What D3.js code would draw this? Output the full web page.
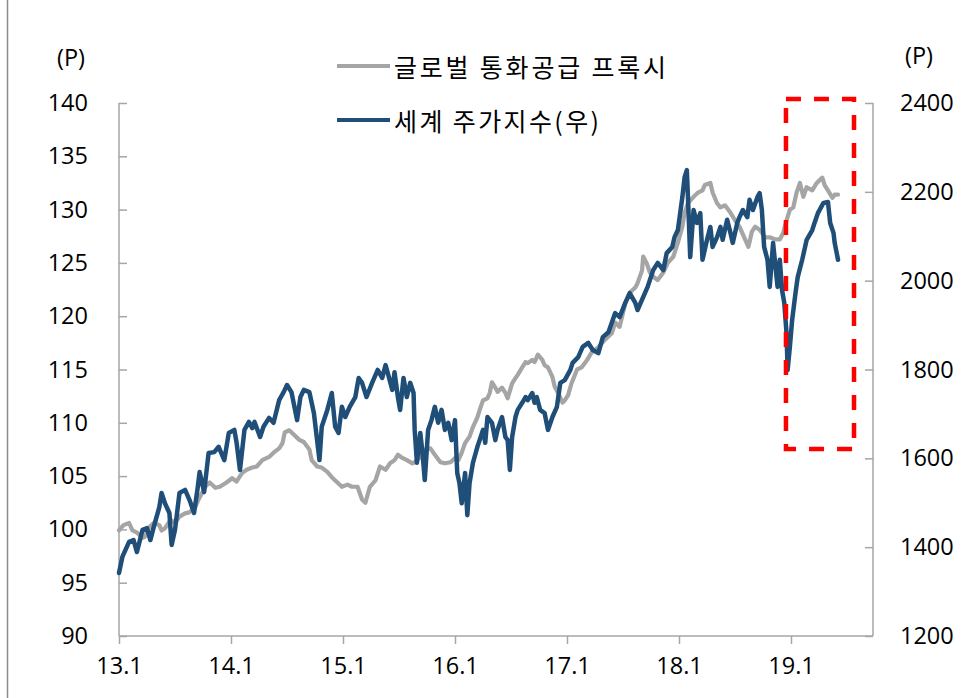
<!DOCTYPE html>
<html><head><meta charset="utf-8">
<script src="https://cdn.jsdelivr.net/npm/d3@7"></script>
<style>
html,body{margin:0;padding:0;background:#fff;}
svg{display:block;}
</style></head>
<body>
<svg id="chart" width="962" height="698"></svg>
<script>
// ---- data (decimal year, value) ----
const seriesNames = ["글로벌 통화공급 프록시", "세계 주가지수(우)"];
const xTickYears = [2013, 2014, 2015, 2016, 2017, 2018, 2019];
const xTickLabels = ["13.1", "14.1", "15.1", "16.1", "17.1", "18.1", "19.1"];
const leftTicks = [90, 95, 100, 105, 110, 115, 120, 125, 130, 135, 140];
const rightTicks = [1200, 1400, 1600, 1800, 2000, 2200, 2400];

const moneyProxy = [[2013.00,99.9],[2013.04,100.4],[2013.09,100.6],[2013.12,99.9],[2013.16,99.7],[2013.21,99.2],[2013.23,99.3],[2013.27,100.2],[2013.31,100.6],[2013.36,100.4],[2013.38,99.9],[2013.41,100.1],[2013.46,100.9],[2013.50,100.6],[2013.54,101.2],[2013.59,101.5],[2013.63,101.6],[2013.68,102.1],[2013.71,102.8],[2013.74,103.4],[2013.77,104.0],[2013.81,104.4],[2013.86,103.9],[2013.90,104.0],[2013.96,104.4],[2014.01,104.8],[2014.05,104.5],[2014.10,105.3],[2014.14,105.6],[2014.19,105.8],[2014.23,105.9],[2014.28,106.5],[2014.34,106.8],[2014.38,107.2],[2014.43,107.6],[2014.46,108.1],[2014.48,109.1],[2014.52,109.3],[2014.56,108.9],[2014.61,108.4],[2014.65,108.2],[2014.70,107.5],[2014.72,106.5],[2014.77,105.9],[2014.81,105.8],[2014.86,105.4],[2014.90,104.9],[2014.95,104.4],[2014.99,104.0],[2015.04,104.2],[2015.08,104.0],[2015.13,104.0],[2015.17,102.8],[2015.20,102.5],[2015.24,104.0],[2015.29,104.6],[2015.33,105.9],[2015.38,105.6],[2015.42,106.2],[2015.46,106.5],[2015.49,107.0],[2015.53,106.7],[2015.57,106.5],[2015.62,106.2],[2015.64,106.3],[2015.69,106.8],[2015.73,107.5],[2015.78,107.6],[2015.82,107.0],[2015.87,106.3],[2015.91,106.2],[2015.96,106.3],[2016.00,106.7],[2016.03,106.5],[2016.06,107.2],[2016.09,108.1],[2016.13,108.7],[2016.16,109.6],[2016.20,110.5],[2016.22,111.2],[2016.25,112.1],[2016.29,112.3],[2016.31,112.8],[2016.33,113.8],[2016.36,113.3],[2016.38,112.9],[2016.42,113.3],[2016.45,112.8],[2016.47,112.3],[2016.51,113.7],[2016.54,114.2],[2016.56,114.5],[2016.60,115.2],[2016.63,115.7],[2016.65,115.6],[2016.69,115.9],[2016.71,115.7],[2016.74,116.4],[2016.78,115.9],[2016.80,115.4],[2016.83,115.2],[2016.87,114.3],[2016.89,113.4],[2016.92,112.8],[2016.96,111.9],[2016.98,112.1],[2017.01,112.6],[2017.04,113.7],[2017.09,115.0],[2017.13,115.2],[2017.18,115.9],[2017.22,116.6],[2017.28,117.1],[2017.34,117.8],[2017.40,118.4],[2017.43,119.4],[2017.47,119.0],[2017.52,121.2],[2017.56,122.2],[2017.61,122.7],[2017.63,123.1],[2017.67,124.3],[2017.68,125.6],[2017.71,125.0],[2017.74,124.1],[2017.77,123.7],[2017.81,123.4],[2017.86,124.1],[2017.90,125.0],[2017.95,125.6],[2017.99,126.9],[2018.03,128.4],[2018.05,129.7],[2018.08,130.6],[2018.13,131.2],[2018.17,131.6],[2018.21,131.8],[2018.23,132.3],[2018.28,132.5],[2018.30,131.6],[2018.34,130.6],[2018.37,130.2],[2018.41,130.4],[2018.46,129.7],[2018.50,129.0],[2018.54,128.4],[2018.59,127.2],[2018.62,126.5],[2018.65,127.9],[2018.68,128.4],[2018.72,128.1],[2018.77,127.4],[2018.81,127.4],[2018.86,127.2],[2018.90,127.2],[2018.93,127.8],[2018.96,129.0],[2018.99,130.0],[2019.02,130.2],[2019.05,131.6],[2019.08,132.5],[2019.11,131.2],[2019.14,132.1],[2019.19,131.8],[2019.23,132.5],[2019.28,133.0],[2019.30,132.3],[2019.33,131.8],[2019.37,131.1],[2019.39,131.4],[2019.42,131.4]];

const worldStocks = [[2013.00,1342],[2013.03,1378],[2013.09,1412],[2013.13,1416],[2013.16,1389],[2013.21,1439],[2013.25,1443],[2013.28,1416],[2013.31,1445],[2013.36,1490],[2013.38,1522],[2013.41,1499],[2013.45,1477],[2013.47,1405],[2013.50,1439],[2013.54,1522],[2013.59,1529],[2013.63,1506],[2013.67,1477],[2013.70,1529],[2013.72,1569],[2013.76,1524],[2013.80,1612],[2013.85,1614],[2013.89,1626],[2013.94,1596],[2013.98,1657],[2014.03,1664],[2014.05,1635],[2014.08,1574],[2014.12,1664],[2014.16,1682],[2014.19,1668],[2014.21,1682],[2014.26,1648],[2014.29,1671],[2014.34,1691],[2014.38,1680],[2014.43,1731],[2014.47,1749],[2014.50,1765],[2014.54,1749],[2014.59,1686],[2014.62,1738],[2014.65,1754],[2014.70,1749],[2014.74,1702],[2014.79,1596],[2014.81,1671],[2014.86,1709],[2014.90,1747],[2014.93,1671],[2014.96,1657],[2014.99,1716],[2015.02,1693],[2015.06,1716],[2015.11,1738],[2015.14,1781],[2015.17,1770],[2015.21,1738],[2015.26,1770],[2015.31,1799],[2015.35,1781],[2015.38,1810],[2015.40,1792],[2015.44,1754],[2015.46,1794],[2015.49,1738],[2015.51,1709],[2015.54,1781],[2015.57,1738],[2015.60,1770],[2015.63,1747],[2015.64,1664],[2015.66,1590],[2015.69,1657],[2015.71,1612],[2015.73,1551],[2015.76,1664],[2015.79,1686],[2015.82,1716],[2015.85,1680],[2015.88,1709],[2015.91,1664],[2015.94,1680],[2015.97,1641],[2016.00,1686],[2016.02,1567],[2016.04,1544],[2016.06,1499],[2016.09,1567],[2016.11,1472],[2016.13,1544],[2016.16,1590],[2016.20,1626],[2016.22,1641],[2016.25,1664],[2016.27,1635],[2016.29,1693],[2016.33,1680],[2016.36,1641],[2016.38,1664],[2016.42,1693],[2016.45,1648],[2016.47,1641],[2016.49,1574],[2016.51,1648],[2016.54,1693],[2016.56,1709],[2016.60,1725],[2016.63,1738],[2016.65,1731],[2016.69,1747],[2016.71,1725],[2016.73,1738],[2016.76,1709],[2016.80,1702],[2016.83,1664],[2016.87,1693],[2016.91,1716],[2016.94,1770],[2016.98,1776],[2017.03,1799],[2017.05,1815],[2017.10,1828],[2017.14,1851],[2017.19,1860],[2017.23,1844],[2017.28,1837],[2017.32,1873],[2017.37,1884],[2017.43,1927],[2017.47,1918],[2017.52,1950],[2017.56,1972],[2017.61,1950],[2017.63,1934],[2017.68,1963],[2017.72,1986],[2017.77,2024],[2017.81,2040],[2017.86,2024],[2017.89,2062],[2017.94,2076],[2017.96,2098],[2017.99,2114],[2018.03,2188],[2018.05,2233],[2018.07,2249],[2018.08,2188],[2018.10,2053],[2018.13,2159],[2018.16,2130],[2018.19,2152],[2018.21,2047],[2018.25,2092],[2018.28,2121],[2018.30,2076],[2018.34,2098],[2018.37,2121],[2018.39,2092],[2018.43,2137],[2018.46,2107],[2018.48,2085],[2018.52,2130],[2018.54,2143],[2018.57,2159],[2018.61,2143],[2018.63,2182],[2018.66,2159],[2018.70,2188],[2018.72,2197],[2018.74,2159],[2018.76,2076],[2018.79,2047],[2018.81,1986],[2018.84,2085],[2018.88,1986],[2018.90,2047],[2018.92,1979],[2018.94,1950],[2018.96,1882],[2018.97,1799],[2018.99,1851],[2019.01,1911],[2019.04,1972],[2019.06,2008],[2019.10,2047],[2019.14,2092],[2019.19,2114],[2019.21,2130],[2019.24,2152],[2019.29,2175],[2019.33,2177],[2019.35,2130],[2019.38,2107],[2019.39,2085],[2019.42,2047]];

// highlighted period (decimal years) and right-axis value range
const highlightT = [2018.955, 2019.5625];
const highlightV = [1621, 2409];

// ---- layout ----
const svg = d3.select("#chart");
const L = 119, R = 873, T = 103, B = 636;
const x = d3.scaleLinear().domain([2013, 2013 + (R - L) / 112]).range([L, R]);
const yL = d3.scaleLinear().domain([90, 140]).range([B, T]);
const yR = d3.scaleLinear().domain([1200, 2400]).range([B, T]);

const axisColor = "#a6a6a6";
const textFont = "'Open Sans', 'Liberation Sans', sans-serif";
const cjkFont = "'Noto Sans CJK KR', 'Noto Sans', sans-serif";
const grayC = "#a5a5a5", blueC = "#1f4e79";
const fs = 23.5;

// outer frame edge
svg.append("line").attr("x1", 7.5).attr("x2", 7.5).attr("y1", 0).attr("y2", 698)
  .attr("stroke", "#8c8c8c").attr("stroke-width", 1.5);

// axes
const gx = svg.append("g").attr("transform", `translate(0,${B})`)
  .call(d3.axisBottom(x).tickValues(xTickYears).tickFormat((d, i) => xTickLabels[i]).tickSize(8).tickPadding(13));
const gl = svg.append("g").attr("transform", `translate(${L},0)`)
  .call(d3.axisLeft(yL).tickValues(leftTicks).tickFormat(d3.format("d")).tickSize(-8).tickPadding(31));
const gr = svg.append("g").attr("transform", `translate(${R},0)`)
  .call(d3.axisRight(yR).tickValues(rightTicks).tickFormat(d3.format("d")).tickSize(-8).tickPadding(27));

[gx, gl, gr].forEach(g => {
  g.select(".domain").attr("stroke", axisColor).attr("stroke-width", 1.5);
  g.selectAll(".tick line").attr("stroke", axisColor).attr("stroke-width", 1.5);
  g.selectAll(".tick text").attr("fill", "#000").attr("font-family", textFont).attr("font-size", fs);
});
gx.selectAll(".tick text").attr("dy", "0.71em");
gx.select(".domain").attr("d", `M${L},0H${R}`);
gl.select(".domain").attr("d", `M0,${B}V${T}`);
gr.select(".domain").attr("d", `M0,${B}V${T}`);

// axis unit labels
svg.append("text").attr("x", 71).attr("y", 57).attr("text-anchor", "middle").attr("dominant-baseline", "central")
  .attr("font-family", textFont).attr("font-size", fs).text("(P)");
svg.append("text").attr("x", 919).attr("y", 55).attr("text-anchor", "middle").attr("dominant-baseline", "central")
  .attr("font-family", textFont).attr("font-size", fs).text("(P)");

// lines
const lineL = d3.line().x(d => x(d[0])).y(d => yL(d[1]));
const lineR = d3.line().x(d => x(d[0])).y(d => yR(d[1]));
svg.append("path").datum(moneyProxy).attr("d", lineL).attr("fill", "none")
  .attr("stroke", grayC).attr("stroke-width", 4.2).attr("stroke-linejoin", "round").attr("stroke-linecap", "round");
svg.append("path").datum(worldStocks).attr("d", lineR).attr("fill", "none")
  .attr("stroke", blueC).attr("stroke-width", 4.5).attr("stroke-linejoin", "round").attr("stroke-linecap", "round");

// highlight box
svg.append("rect")
  .attr("x", x(highlightT[0])).attr("y", yR(highlightV[1]))
  .attr("width", x(highlightT[1]) - x(highlightT[0]))
  .attr("height", yR(highlightV[0]) - yR(highlightV[1]))
  .attr("fill", "none").attr("stroke", "#ff0000").attr("stroke-width", 4.5)
  .attr("stroke-dasharray", "15,13");

// legend
const legendColors = [grayC, blueC];
const legendY = [66, 120];
const legendW = [272, 205];
seriesNames.forEach((name, i) => {
  svg.append("line").attr("x1", 337).attr("x2", 390).attr("y1", legendY[i]).attr("y2", legendY[i])
    .attr("stroke", legendColors[i]).attr("stroke-width", 4);
  svg.append("text").attr("x", 394).attr("y", legendY[i]).attr("dominant-baseline", "central")
    .attr("font-family", cjkFont).attr("font-size", 25).attr("fill", "#000")
    .attr("textLength", legendW[i]).attr("lengthAdjust", "spacing")
    .text(name);
});
</script>
</body></html>
